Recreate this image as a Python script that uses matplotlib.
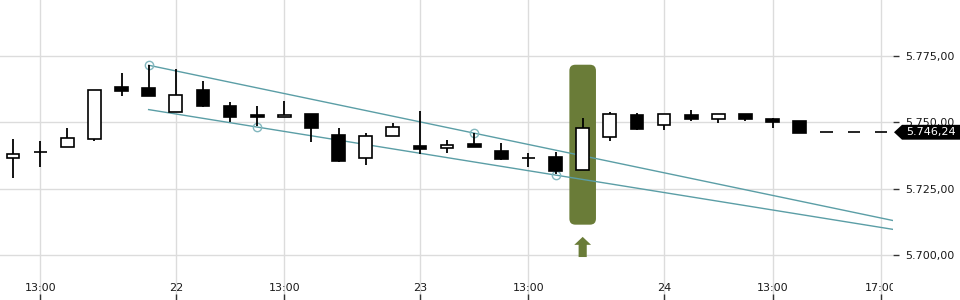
import matplotlib
matplotlib.use('Agg')
import matplotlib.pyplot as plt
from matplotlib.patches import FancyBboxPatch, FancyArrow, Polygon
from matplotlib.transforms import blended_transform_factory

# candle data (index positions)
opens = [5736.4, 5738.7, 5740.6, 5743.6, 5763.3, 5762.8, 5754.0, 5762.1, 5756.0, 5752.6,
         5751.9, 5753.0, 5745.1, 5736.4, 5744.7, 5741.0, 5740.2, 5741.7, 5739.2, 5736.7,
         5736.8, 5731.9, 5744.4, 5752.6, 5748.9, 5752.8, 5751.3, 5753.1, 5751.1, 5750.5,
         5746.24, 5746.24, 5746.24]
highs = [5743.7, 5743.0, 5747.9, 5762.1, 5768.6, 5771.6, 5770.0, 5765.5, 5757.5, 5756.0,
         5757.9, 5753.0, 5747.7, 5745.9, 5749.6, 5754.2, 5743.2, 5745.9, 5742.2, 5738.4,
         5738.7, 5751.5, 5753.8, 5753.5, 5753.3, 5754.5, 5753.0, 5753.1, 5751.5, 5750.5,
         5746.24, 5746.24, 5746.24]
lows = [5729.0, 5733.3, 5740.6, 5743.1, 5760.0, 5760.0, 5754.0, 5755.9, 5750.0, 5748.5,
        5751.9, 5742.5, 5735.2, 5734.0, 5744.7, 5738.0, 5738.6, 5740.8, 5735.9, 5733.3,
        5730.4, 5731.9, 5743.1, 5747.2, 5747.2, 5750.6, 5749.9, 5750.6, 5748.0, 5746.1,
        5746.24, 5746.24, 5746.24]
closes = [5738.0, 5738.7, 5744.0, 5762.1, 5761.9, 5760.0, 5760.2, 5756.3, 5751.9, 5752.0,
          5752.6, 5748.0, 5735.5, 5744.7, 5748.1, 5740.1, 5741.3, 5740.8, 5736.3, 5736.7,
          5731.5, 5747.7, 5753.0, 5747.6, 5753.0, 5751.4, 5753.0, 5751.1, 5750.1, 5746.1,
          5746.24, 5746.24, 5746.24]

xtick_pos = [1, 6, 10, 15, 19, 24, 28, 32]
xtick_labels = ['13:00', '22', '13:00', '23', '13:00', '24', '13:00', '17:00']
ytick_vals = [5700, 5725, 5750, 5775]
ytick_labels = ['5.700,00', '5.725,00', '5.750,00', '5.775,00']

# trend channel anchor points (index, value)
upper_pts = [(5, 5771.5), (17, 5745.9)]
lower_pts = [(9, 5748.2), (20, 5730.1)]
line_start = 5

# signal candle
signal_idx = 21
signal_lo, signal_hi = 5711.4, 5771.7
last_price = 5746.24

XMIN, XMAX = -0.48, 32.44
YMIN, YMAX = 5683.0, 5796.1

fig = plt.figure(figsize=(9.6, 3), dpi=100)
ax = fig.add_axes([0, 0, 893 / 960, 1])
ax.set_xlim(XMIN, XMAX)
ax.set_ylim(YMIN, YMAX)
for s in ax.spines.values():
    s.set_visible(False)
ax.grid(color='#dcdcdc', lw=1, zorder=0)
ax.set_axisbelow(True)

# signal highlight
hl = FancyBboxPatch((signal_idx - 0.49, signal_lo), 0.98, signal_hi - signal_lo,
                    boxstyle='round,pad=0,rounding_size=0.22', mutation_aspect=10.2,
                    fc='#6a7c38', ec='none', zorder=1)
ax.add_patch(hl)
ax.add_patch(FancyArrow(signal_idx, 5699.2, 0, 7.6, width=0.3, head_width=0.62,
                        head_length=3.0, length_includes_head=True,
                        fc='#6a7c38', ec='none', zorder=1))

# trend lines
def line_val(pts, x):
    (x0, y0), (x1, y1) = pts
    return y0 + (y1 - y0) * (x - x0) / (x1 - x0)

for pts in (upper_pts, lower_pts):
    ax.plot([line_start, XMAX], [line_val(pts, line_start), line_val(pts, XMAX)],
            color='#5b9ea6', lw=1, zorder=2)
    ax.plot([p[0] for p in pts], [p[1] for p in pts], 'o', ms=6, mfc='none',
            mec='#82b7be', mew=1, zorder=2)

# candles
idx = list(range(len(opens)))
ax.vlines(idx, lows, highs, color='black', lw=1.3, zorder=3)
bottoms = [min(o, c) for o, c in zip(opens, closes)]
heights = [abs(c - o) for o, c in zip(opens, closes)]
fills = ['white' if c > o else 'black' for o, c in zip(opens, closes)]
ax.bar(idx, heights, bottom=bottoms, width=0.47, color=fills, edgecolor='black',
       lw=1.2, zorder=4)

# axes ticks
ax.yaxis.tick_right()
ax.set_yticks(ytick_vals)
ax.set_yticklabels(ytick_labels)
ax.tick_params(axis='y', length=4, width=1, color='#333333', pad=5, labelsize=8,
               labelcolor='#1a1a1a')
ax.set_xticks(xtick_pos)
ax.set_xticklabels(xtick_labels)
ax.tick_params(axis='x', direction='in', length=4, width=1, color='#333333',
               pad=-12.5, labelsize=8, labelcolor='#1a1a1a')
for lab in ax.get_xticklabels():
    lab.set_clip_on(True)
    lab.set_clip_box(ax.bbox)

# last price tag
tr = blended_transform_factory(fig.transFigure, ax.transData)
h = 2.8
tag = Polygon([(894 / 960, last_price), (902 / 960, last_price + h), (1.0, last_price + h),
               (1.0, last_price - h), (902 / 960, last_price - h)],
              closed=True, transform=tr, fc='black', ec='none', clip_on=False)
fig.patches.append(tag)
fig.text(906 / 960, last_price, '5.746,24', transform=tr, color='white', fontsize=8,
         va='center', ha='left')

fig.savefig('out.png', dpi=100)
